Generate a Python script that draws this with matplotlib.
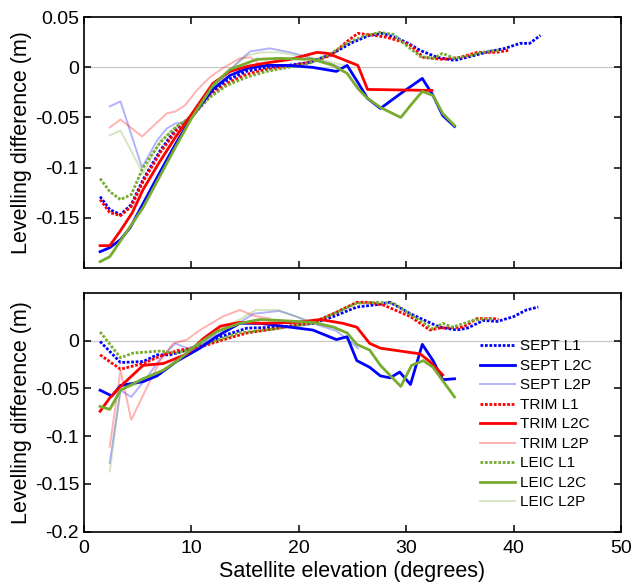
import matplotlib
matplotlib.use("Agg")
import matplotlib.pyplot as plt

plt.rcParams["font.family"] = ["Liberation Sans", "DejaVu Sans"]

# ---- upper panel ----
sept_l1_top_x = [1.5, 2.4, 3.4, 4.4, 5.5, 7.1, 8.6, 9.9, 11.7, 13.3, 15.1, 17.0, 19.0, 21.0, 23.0, 25.0,
                 26.6, 27.8, 29.0, 30.2, 31.3, 32.9, 34.5, 36.0, 37.8, 39.2, 40.6, 41.5, 42.5]
sept_l1_top_y = [-0.129, -0.142, -0.147, -0.137, -0.112, -0.083, -0.061, -0.050, -0.026, -0.013, -0.004,
                 0.000, 0.002, 0.005, 0.013, 0.025, 0.032, 0.034, 0.030, 0.024, 0.017, 0.010, 0.007,
                 0.011, 0.016, 0.019, 0.024, 0.024, 0.032]
trim_l1_top_x = [1.5, 2.4, 3.4, 4.4, 5.5, 7.1, 8.6, 9.9, 11.7, 13.3, 15.1, 17.0, 19.0, 21.0, 23.0, 24.5,
                 25.5, 27.0, 28.2, 29.5, 30.4, 31.6, 33.4, 35.0, 36.6, 38.4, 39.5]
trim_l1_top_y = [-0.132, -0.145, -0.148, -0.139, -0.114, -0.085, -0.063, -0.051, -0.029, -0.016, -0.007,
                 -0.002, 0.001, 0.005, 0.012, 0.026, 0.034, 0.032, 0.030, 0.026, 0.022, 0.010, 0.008,
                 0.010, 0.015, 0.015, 0.017]
leic_l1_top_x = [1.5, 2.4, 3.4, 4.4, 5.5, 7.1, 8.6, 9.9, 11.7, 13.3, 15.1, 17.0, 19.0, 21.0, 23.0, 24.5,
                 26.0, 27.5, 28.8, 30.0, 31.3, 32.5, 33.4, 34.5, 36.0, 37.5, 38.7]
leic_l1_top_y = [-0.111, -0.124, -0.132, -0.127, -0.100, -0.075, -0.059, -0.050, -0.030, -0.018, -0.010,
                 -0.004, 0.000, 0.004, 0.014, 0.024, 0.031, 0.035, 0.033, 0.022, 0.011, 0.009, 0.014,
                 0.009, 0.012, 0.016, 0.017]

sept_l2c_top_x = [1.5, 2.4, 3.4, 4.3, 5.5, 7.0, 8.5, 10.0, 12.0, 13.6, 15.2, 17.0, 19.0, 21.3, 23.5, 24.5,
                  25.5, 26.4, 27.6, 29.5, 31.5, 32.5, 33.4, 34.5]
sept_l2c_top_y = [-0.184, -0.180, -0.172, -0.160, -0.136, -0.106, -0.077, -0.050, -0.022, -0.008, -0.001,
                  0.002, 0.002, 0.000, -0.004, 0.002, -0.015, -0.031, -0.041, -0.026, -0.011, -0.028,
                  -0.048, -0.059]
trim_l2c_top_x = [1.5, 2.4, 3.4, 4.5, 5.5, 7.0, 8.5, 10.0, 12.0, 13.6, 15.2, 16.7, 19.2, 21.7, 22.7, 25.5,
                  26.4, 32.4]
trim_l2c_top_y = [-0.178, -0.178, -0.163, -0.145, -0.122, -0.095, -0.070, -0.047, -0.016, -0.004, 0.001,
                  0.004, 0.008, 0.015, 0.014, 0.002, -0.022, -0.023]
leic_l2c_top_x = [1.5, 2.4, 4.3, 5.5, 7.0, 8.5, 10.0, 12.0, 13.6, 16.1, 18.2, 21.3, 23.2, 24.5, 25.5, 26.3,
                  27.6, 29.5, 30.4, 31.5, 32.5, 33.4, 34.5]
leic_l2c_top_y = [-0.194, -0.189, -0.159, -0.140, -0.110, -0.080, -0.051, -0.018, -0.002, 0.008, 0.009,
                  0.008, 0.002, -0.006, -0.021, -0.030, -0.040, -0.050, -0.038, -0.024, -0.028, -0.046,
                  -0.058]

sept_l2p_top_x = [2.4, 3.4, 5.4, 6.8, 7.7, 8.5, 9.2, 10.0, 11.1, 12.7, 14.5, 15.5, 17.3, 19.2, 21.3, 22.9, 23.8]
sept_l2p_top_y = [-0.039, -0.034, -0.100, -0.073, -0.061, -0.056, -0.055, -0.048, -0.035, -0.013, 0.007,
                  0.016, 0.019, 0.015, 0.009, 0.004, 0.000]
trim_l2p_top_x = [2.4, 3.4, 5.4, 7.7, 8.5, 9.4, 10.5, 11.7, 12.9, 14.5, 15.5, 16.4]
trim_l2p_top_y = [-0.060, -0.052, -0.069, -0.046, -0.044, -0.038, -0.023, -0.010, -0.001, 0.009, 0.010, 0.003]
leic_l2p_top_x = [2.4, 3.4, 5.5, 7.1, 8.5, 10.0, 12.0, 13.6, 15.2, 16.5, 18.2, 21.3, 23.5, 24.2]
leic_l2p_top_y = [-0.068, -0.063, -0.106, -0.073, -0.060, -0.049, -0.020, -0.002, 0.012, 0.015, 0.015,
                  0.009, 0.004, 0.002]

# ---- lower panel ----
sept_l1_bot_x = [1.5, 3.4, 5.5, 6.8, 8.0, 9.6, 11.1, 12.7, 15.2, 18.2, 21.3, 23.2, 25.4, 27.6, 28.5, 30.4,
                 33.1, 34.7, 35.7, 37.2, 38.5, 40.0, 41.2, 42.3]
sept_l1_bot_y = [-0.001, -0.023, -0.022, -0.015, -0.015, -0.010, -0.005, 0.004, 0.013, 0.014, 0.018, 0.025,
                 0.035, 0.038, 0.040, 0.028, 0.014, 0.011, 0.013, 0.021, 0.020, 0.025, 0.032, 0.035]
trim_l1_bot_x = [1.5, 3.4, 5.5, 7.4, 8.9, 10.8, 12.7, 15.2, 17.6, 21.3, 23.2, 25.4, 26.5, 27.9, 30.4, 32.2,
                 33.1, 35.3, 36.6, 38.1, 38.6]
trim_l1_bot_y = [-0.015, -0.030, -0.024, -0.015, -0.010, -0.007, 0.000, 0.008, 0.012, 0.019, 0.028, 0.040,
                 0.040, 0.037, 0.025, 0.011, 0.013, 0.014, 0.023, 0.023, 0.022]
leic_l1_bot_x = [1.5, 3.4, 4.6, 7.1, 8.6, 10.2, 12.3, 14.5, 17.6, 21.3, 23.2, 25.4, 27.3, 28.8, 30.6, 32.5,
                 33.4, 34.3, 36.2, 37.5, 38.0]
leic_l1_bot_y = [0.009, -0.018, -0.013, -0.011, -0.013, -0.008, 0.000, 0.008, 0.012, 0.018, 0.028, 0.039,
                 0.040, 0.039, 0.026, 0.012, 0.018, 0.014, 0.021, 0.023, 0.022]

sept_l2c_bot_x = [1.5, 2.6, 3.4, 5.5, 6.8, 8.6, 10.8, 12.3, 14.5, 16.4, 19.2, 21.3, 23.5, 24.5, 25.4, 26.6,
                  27.6, 28.5, 29.4, 30.4, 31.5, 32.5, 33.4, 34.5]
sept_l2c_bot_y = [-0.052, -0.058, -0.047, -0.043, -0.037, -0.022, -0.008, 0.004, 0.018, 0.018, 0.014, 0.011,
                  0.001, 0.004, -0.021, -0.028, -0.037, -0.039, -0.033, -0.046, -0.004, -0.021, -0.041,
                  -0.040]
trim_l2c_bot_x = [1.5, 2.4, 3.4, 5.5, 7.4, 9.6, 11.1, 12.7, 14.5, 16.6, 19.8, 22.0, 24.1, 25.4, 26.6, 27.6,
                  31.3, 32.2, 33.4]
trim_l2c_bot_y = [-0.074, -0.060, -0.048, -0.026, -0.024, -0.014, 0.002, 0.015, 0.019, 0.018, 0.019, 0.022,
                  0.018, 0.014, -0.003, -0.008, -0.014, -0.022, -0.036]
leic_l2c_bot_x = [1.5, 2.4, 3.4, 5.5, 7.4, 8.6, 10.2, 12.3, 14.5, 16.4, 18.2, 21.3, 23.2, 24.5, 25.4, 26.6,
                  27.6, 29.5, 30.5, 31.6, 32.5, 34.5]
leic_l2c_bot_y = [-0.069, -0.072, -0.052, -0.040, -0.031, -0.022, -0.007, 0.009, 0.018, 0.022, 0.021, 0.019,
                  0.014, 0.008, -0.004, -0.010, -0.026, -0.048, -0.026, -0.021, -0.028, -0.059]

sept_l2p_bot_x = [2.4, 3.4, 4.4, 5.9, 7.1, 8.5, 9.6, 11.1, 12.7, 14.5, 15.8, 18.2, 19.8, 21.3, 23.5, 25.0, 25.5]
sept_l2p_bot_y = [-0.128, -0.052, -0.059, -0.038, -0.019, -0.003, -0.008, -0.003, 0.011, 0.019, 0.028, 0.031,
                  0.025, 0.018, 0.010, -0.003, -0.008]
trim_l2p_bot_x = [2.4, 3.4, 4.4, 5.9, 7.1, 8.3, 9.6, 10.8, 12.9, 14.5, 15.8, 17.3]
trim_l2p_bot_y = [-0.111, -0.031, -0.083, -0.048, -0.021, -0.003, 0.001, 0.011, 0.025, 0.032, 0.026, 0.023]
leic_l2p_bot_x = [2.4, 3.4, 4.4, 5.9, 7.4, 9.0, 10.5, 12.3, 14.5, 16.0, 18.0, 20.5, 23.5]
leic_l2p_bot_y = [-0.137, -0.050, -0.048, -0.041, -0.030, -0.018, -0.006, 0.010, 0.022, 0.032, 0.032, 0.022,
                  0.014]

receivers = ["SEPT", "TRIM", "LEIC"]
signals = ["L1", "L2C", "L2P"]

colors = {"SEPT": "#0000ff", "TRIM": "#ff0000", "LEIC": "#77ac30"}

top_data = {
    ("SEPT", "L1"): (sept_l1_top_x, sept_l1_top_y),
    ("SEPT", "L2C"): (sept_l2c_top_x, sept_l2c_top_y),
    ("SEPT", "L2P"): (sept_l2p_top_x, sept_l2p_top_y),
    ("TRIM", "L1"): (trim_l1_top_x, trim_l1_top_y),
    ("TRIM", "L2C"): (trim_l2c_top_x, trim_l2c_top_y),
    ("TRIM", "L2P"): (trim_l2p_top_x, trim_l2p_top_y),
    ("LEIC", "L1"): (leic_l1_top_x, leic_l1_top_y),
    ("LEIC", "L2C"): (leic_l2c_top_x, leic_l2c_top_y),
    ("LEIC", "L2P"): (leic_l2p_top_x, leic_l2p_top_y),
}
bot_data = {
    ("SEPT", "L1"): (sept_l1_bot_x, sept_l1_bot_y),
    ("SEPT", "L2C"): (sept_l2c_bot_x, sept_l2c_bot_y),
    ("SEPT", "L2P"): (sept_l2p_bot_x, sept_l2p_bot_y),
    ("TRIM", "L1"): (trim_l1_bot_x, trim_l1_bot_y),
    ("TRIM", "L2C"): (trim_l2c_bot_x, trim_l2c_bot_y),
    ("TRIM", "L2P"): (trim_l2p_bot_x, trim_l2p_bot_y),
    ("LEIC", "L1"): (leic_l1_bot_x, leic_l1_bot_y),
    ("LEIC", "L2C"): (leic_l2c_bot_x, leic_l2c_bot_y),
    ("LEIC", "L2P"): (leic_l2p_bot_x, leic_l2p_bot_y),
}


def line_style(signal):
    if signal == "L1":
        return dict(linestyle=(0, (1, 0.6)), linewidth=2.0, alpha=1.0)
    if signal == "L2C":
        return dict(linestyle="-", linewidth=2.0, alpha=1.0)
    return dict(linestyle="-", linewidth=1.4, alpha=0.3)


def draw_panel(ax, data):
    ax.axhline(0, color="#c8c8c8", linewidth=0.9, zorder=0)
    # L2P first so they sit behind
    order = [(r, s) for s in ["L2P", "L1", "L2C"] for r in receivers]
    handles = {}
    for key in order:
        r, s = key
        x, y = data[key]
        (h,) = ax.plot(x, y, color=colors[r], label=f"{r} {s}", **line_style(s))
        handles[key] = h
    ax.set_xlim(0, 50)
    ax.set_ylim(-0.2, 0.05)
    ax.set_xticks([0, 10, 20, 30, 40, 50])
    ax.tick_params(direction="in", top=True, right=True, length=5, width=1.1, labelsize=14)
    ax.tick_params(axis="x", pad=6)
    for sp in ax.spines.values():
        sp.set_linewidth(1.2)
    ax.set_ylabel("Levelling difference (m)", fontsize=15.5)
    return handles


def main():
    fig = plt.figure(figsize=(6.33, 5.85), dpi=100)
    ax1 = fig.add_axes([0.1327, 0.5424, 0.8483, 0.428])
    ax2 = fig.add_axes([0.1327, 0.0911, 0.8483, 0.4085])

    draw_panel(ax1, top_data)
    ax1.set_yticks([-0.15, -0.1, -0.05, 0, 0.05])
    ax1.set_yticklabels(["-0.15", "-0.1", "-0.05", "0", "0.05"])
    ax1.set_xticklabels([])

    handles = draw_panel(ax2, bot_data)
    ax2.set_yticks([-0.2, -0.15, -0.1, -0.05, 0])
    ax2.set_yticklabels(["-0.2", "-0.15", "-0.1", "-0.05", "0"])
    ax2.set_xticklabels(["0", "10", "20", "30", "40", "50"])
    ax2.set_xlabel("Satellite elevation (degrees)", fontsize=15.5, labelpad=3)

    legend_keys = [(r, s) for r in receivers for s in signals]
    ax2.legend([handles[k] for k in legend_keys], [f"{r} {s}" for r, s in legend_keys],
               loc="upper left", bbox_to_anchor=(0.726, 0.83), frameon=False,
               fontsize=11, handlelength=2.3, handletextpad=0.3, labelspacing=0.36,
               borderaxespad=0)

    ax1.yaxis.set_label_coords(-0.097, 0.5)
    ax2.yaxis.set_label_coords(-0.097, 0.5)

    fig.savefig("out.png", dpi=100)
    plt.close(fig)


if __name__ == "__main__":
    main()
